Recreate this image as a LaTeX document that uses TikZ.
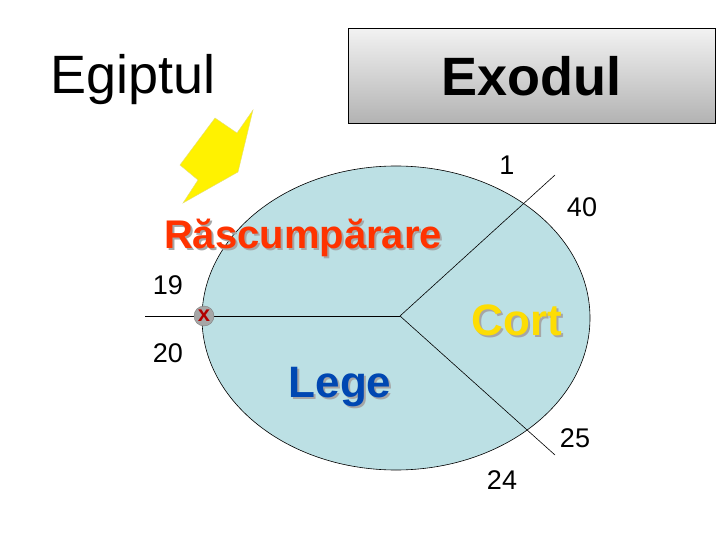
\documentclass[tikz,border=0pt]{standalone}
\usepackage{fontspec}
\setmainfont{Liberation Sans}
\usetikzlibrary{shapes.geometric}
\definecolor{elfill}{RGB}{188,224,228}
\begin{document}
\begin{tikzpicture}[x=1pt,y=-1pt,
  num/.style={font=\fontsize{27}{29}\selectfont},
  ln/.style={draw=black,line width=0.6pt}]
\useasboundingbox (0,0) rectangle (720,540);
\fill[white] (0,0) rectangle (720,540);
\node[draw=black,line width=0.8pt,top color=white!90!gray,bottom color=gray!60,minimum width=367pt,minimum height=95pt,anchor=north west,font=\bfseries\fontsize{54}{56}\selectfont] (exo) at (348,28) {Exodul};
\node[font=\fontsize{54}{56}\selectfont] (egi) at (133,80) {Egiptul};
\draw[fill=yellow,draw=yellow!80!black!60] (253,110) -- (238,172) -- (183,203) -- (198,180) -- (180,165) -- (215,118) -- (237,133) -- cycle;
\node[draw=black,fill=elfill,line width=0.6pt,ellipse,minimum width=388pt,minimum height=304pt] (el) at (396,318) {};
\coordinate (hub) at (400,316);
\coordinate (a) at (555,175);
\coordinate (b) at (145,316);
\coordinate (c) at (555,455);
\draw[ln] (hub) -- (a);
\draw[ln] (hub) -- (b);
\draw[ln] (hub) -- (c);
\node[circle,fill=gray!70,draw=gray,minimum size=20pt,inner sep=0pt,text=red!70!black,font=\bfseries\fontsize{22}{22}\selectfont] (x) at (204,316) {x};
\node[num] (n1) at (507,165) {1};
\node[num] (n40) at (582,207) {40};
\node[num] (n19) at (168,285) {19};
\node[num] (n20) at (168,353) {20};
\node[num] (n25) at (575,438) {25};
\node[num] (n24) at (502,480) {24};
\node[font=\bfseries\fontsize{40}{42}\selectfont,text=gray!70] (rs) at (305,240) {Răscumpărare};
\node[font=\bfseries\fontsize{40}{42}\selectfont,text=red!60!orange] (r) at (303,238) {Răscumpărare};
\node[font=\bfseries\fontsize{44}{46}\selectfont,text=gray!70] (cs) at (519,322) {Cort};
\node[font=\bfseries\fontsize{44}{46}\selectfont,text=yellow!80!orange] (cort) at (517,320) {Cort};
\node[font=\bfseries\fontsize{44}{46}\selectfont,text=gray!70] (ls) at (342,389) {Lege};
\node[font=\bfseries\fontsize{44}{46}\selectfont,text=blue!60!cyan!70!black] (lege) at (340,387) {Lege};
\end{tikzpicture}
\end{document}
